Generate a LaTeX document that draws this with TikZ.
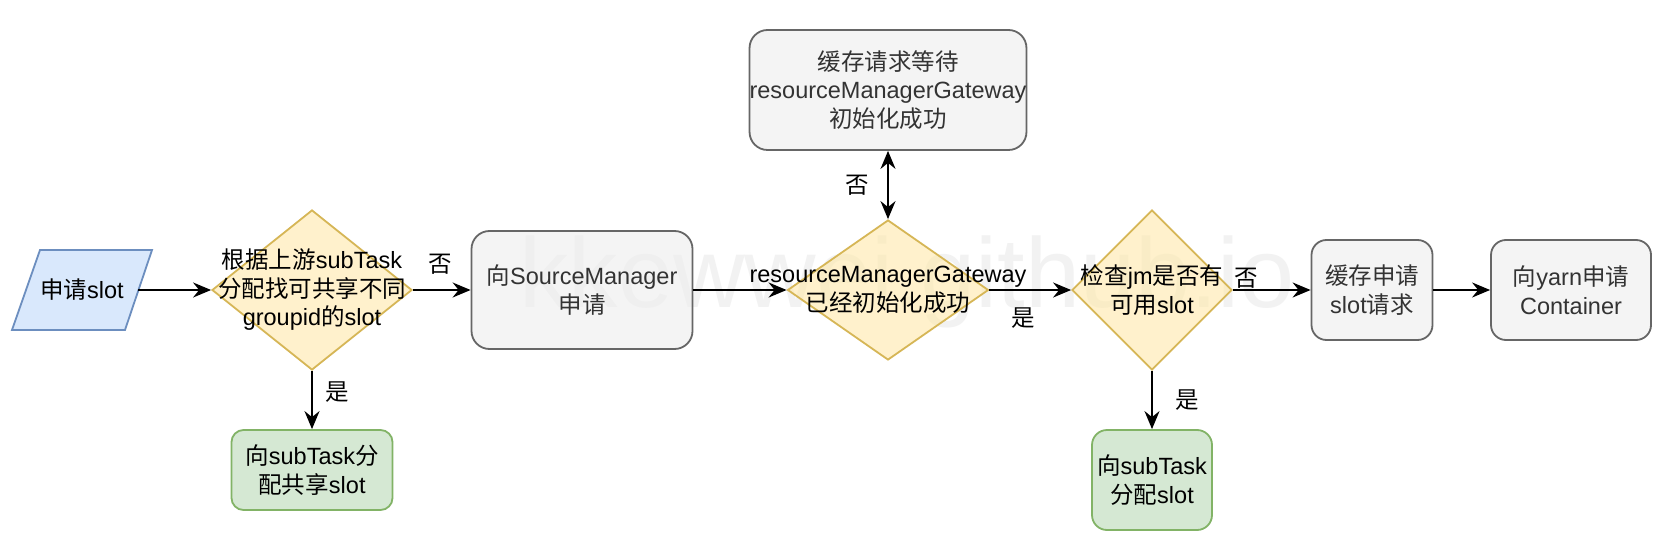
\documentclass[tikz,border=0pt]{standalone}
\usepackage{fontspec}
\setmainfont{Liberation Sans}
\newfontfamily\cjk{Noto Sans CJK SC}
\newcommand\zh[1]{{\cjk #1}}
\usetikzlibrary{shapes.geometric,arrows.meta}
\definecolor{grayfill}{RGB}{238,238,238}
\definecolor{graystroke}{RGB}{102,102,102}
\definecolor{graytext}{RGB}{51,51,51}
\definecolor{yellowfill}{RGB}{255,233,170}
\definecolor{yellowstroke}{RGB}{214,182,86}
\definecolor{bluefill}{RGB}{193,217,250}
\definecolor{bluestroke}{RGB}{108,142,191}
\definecolor{greenfill}{RGB}{185,217,183}
\definecolor{greenstroke}{RGB}{130,179,102}
\definecolor{wmcolor}{RGB}{242,242,242}
\tikzset{
  txt/.style={font=\fontsize{23.5}{28.5}\selectfont, align=center},
  base/.style={txt, line width=1.8pt, fill opacity=0.6, text opacity=1, draw opacity=1, inner sep=0pt},
  graybox/.style={base, rectangle, rounded corners=#1, draw=graystroke, fill=grayfill, text=graytext},
  greenbox/.style={base, rectangle, rounded corners=#1, draw=greenstroke, fill=greenfill, text=black},
  decision/.style={base, diamond, draw=yellowstroke, fill=yellowfill},
  dtext/.style={txt, text=black, inner sep=0pt},
  parashape/.style={line width=1.8pt, draw=bluestroke, fill=bluefill, fill opacity=0.6, draw opacity=1},
  paratext/.style={txt, rectangle, text=black, inner sep=0pt},
  tip/.style={Stealth[length=18pt,width=15pt,inset=6pt]},
  arr/.style={line width=2pt, -{Stealth[length=18pt,width=15pt,inset=6pt]}},
  darr/.style={line width=2pt, {Stealth[length=18pt,width=15pt,inset=6pt]}-{Stealth[length=18pt,width=15pt,inset=6pt]}},
  lbl/.style={txt, text=black, inner sep=0pt},
  wm/.style={font=\fontsize{99}{110}\selectfont, text=wmcolor, inner sep=0pt, anchor=base west}
}
\begin{document}
\begin{tikzpicture}[x=1pt,y=-1pt]
\useasboundingbox (0,0) rectangle (1680,556);
\fill[white] (0,0) rectangle (1680,556);
% watermark
\node[wm] (wmark) at (519,307) {kkewwei.github.io};
% start: parallelogram drawn directly, text node on top
\draw[parashape] (40,250) -- (152,250) -- (125,330) -- (12,330) -- cycle;
\node[paratext, minimum width=112pt, minimum height=80pt] (start) at (82,290) {\zh{申请}slot};
% nodes
\node[decision, minimum width=200pt, minimum height=160pt,
  label={[dtext]center:{\zh{根据上游}subTask\\\zh{分配找可共享不同}\\groupid\zh{的}slot}}] (d1) at (312,290) {};
\node[greenbox=12pt, minimum width=161pt, minimum height=80pt] (g1) at (312,470) {\zh{向}subTask\zh{分}\\\zh{配共享}slot};
\node[graybox=18pt, minimum width=221pt, minimum height=118pt] (sm) at (582,290) {\zh{向}SourceManager\\\zh{申请}};
\node[graybox=18pt, minimum width=240pt, minimum height=120pt] (top) at (888,90) {\zh{缓存请求等待}\\resourceManagerGateway\\\zh{初始化成功}};
\node[decision, minimum width=201pt, minimum height=140pt,
  label={[dtext]center:{resourceManagerGateway\\\zh{已经初始化成功}}}] (d2) at (888,290) {};
\node[decision, minimum width=160pt, minimum height=160pt,
  label={[dtext]center:{\zh{检查}jm\zh{是否有}\\\zh{可用}slot}}] (d3) at (1152,290) {};
\node[greenbox=15pt, minimum width=120pt, minimum height=100pt] (g2) at (1152,480) {\zh{向}subTask\\\zh{分配}slot};
\node[graybox=15pt, minimum width=121pt, minimum height=100pt] (cache) at (1372,290) {\zh{缓存申请}\\slot\zh{请求}};
\node[graybox=15pt, minimum width=160pt, minimum height=100pt] (yarn) at (1571,290) {\zh{向}yarn\zh{申请}\\Container};
% connectors
\draw[arr] (start) -- (d1);
\draw[arr] (d1) -- (g1) node[lbl, at={(337,392)}] (l1) {\zh{是}};
\draw[arr] (d1) -- (sm) node[lbl, at={(440,264)}] (l2) {\zh{否}};
\draw[arr] (sm) -- (d2);
\draw[darr] (top) -- (d2) node[lbl, at={(857,185)}] (l3) {\zh{否}};
\draw[arr] (d2) -- (d3) node[lbl, at={(1023,318)}] (l4) {\zh{是}};
\draw[arr] (d3) -- (cache) node[lbl, at={(1246,278)}] (l5) {\zh{否}};
\draw[arr] (d3) -- (g2) node[lbl, at={(1187,400)}] (l6) {\zh{是}};
\draw[arr] (cache) -- (yarn);
\end{tikzpicture}
\end{document}
